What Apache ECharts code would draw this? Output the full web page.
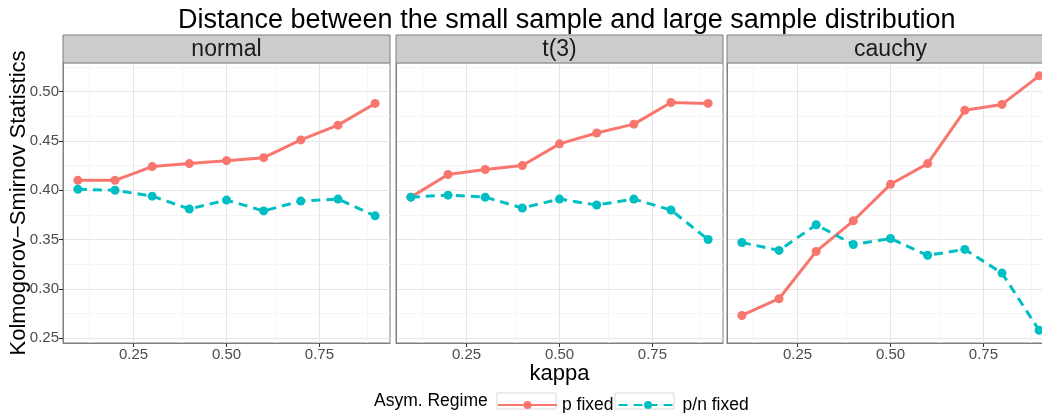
<!DOCTYPE html>
<html>
<head>
<meta charset="utf-8">
<script src="https://cdn.jsdelivr.net/npm/echarts@6/dist/echarts.min.js"></script>
<style>
  html, body { margin: 0; padding: 0; background: #fff; }
  #chart { width: 1042px; height: 413px; }
</style>
</head>
<body>
<div id="chart"></div>
<script>
// data
const kappa = [0.1, 0.2, 0.3, 0.4, 0.5, 0.6, 0.7, 0.8, 0.9]
const panels = ['normal', 't(3)', 'cauchy']
const seriesNames = ['p fixed', 'p/n fixed']

const normalP  = [0.410, 0.410, 0.424, 0.427, 0.430, 0.433, 0.451, 0.466, 0.488]
const normalPN = [0.401, 0.400, 0.394, 0.381, 0.390, 0.379, 0.389, 0.391, 0.374]
const t3P      = [0.393, 0.416, 0.421, 0.425, 0.447, 0.458, 0.467, 0.489, 0.488]
const t3PN     = [0.393, 0.395, 0.393, 0.382, 0.391, 0.385, 0.391, 0.380, 0.350]
const cauchyP  = [0.273, 0.290, 0.338, 0.369, 0.406, 0.427, 0.481, 0.487, 0.516]
const cauchyPN = [0.347, 0.339, 0.365, 0.345, 0.351, 0.334, 0.340, 0.316, 0.258]

const xTicks = [0.25, 0.5, 0.75]
const xMinorTicks = [0.125, 0.375, 0.625, 0.875]

const panelData = [[normalP, normalPN], [t3P, t3PN], [cauchyP, cauchyPN]]

const FONT = "'Liberation Sans', Arial, sans-serif"
const colors = ['#F8766D', '#00BFC4']
const gridLefts = [63, 396, 727]
const gridWidth = 327
const gridTop = 63
const gridHeight = 280
const stripTop = 35

const chart = echarts.init(document.getElementById('chart'), null, { renderer: 'canvas' })

const grids = gridLefts.map(l => ({
  left: l, top: gridTop, width: gridWidth, height: gridHeight,
  outerBoundsMode: 'none', containLabel: false,
  show: true, backgroundColor: '#fff', borderColor: '#7f7f7f', borderWidth: 1
}))

const xAxes = gridLefts.map((l, i) => ({
  type: 'value', gridIndex: i, min: 0.06, max: 0.94,
  name: i === 1 ? 'kappa' : '', nameLocation: 'middle', nameGap: 20, nameMoveOverlap: false,
  nameTextStyle: { fontSize: 22, color: '#000', fontFamily: FONT },
  axisLine: { show: true, lineStyle: { color: '#7f7f7f' } },
  axisTick: { show: true, customValues: xTicks, length: 4, lineStyle: { color: '#333' } },
  axisLabel: { customValues: xTicks, formatter: v => v.toFixed(2), fontSize: 15, color: '#4d4d4d', margin: 4, fontFamily: FONT },
  splitLine: { show: true, lineStyle: { color: '#e5e5e5' } }
}))

const yAxes = gridLefts.map((l, i) => ({
  type: 'value', gridIndex: i, min: 0.2451, max: 0.529, splitNumber: 5,
  name: i === 0 ? 'Kolmogorov\u2212Smirnov Statistics' : '', nameLocation: 'middle', nameGap: 33, nameMoveOverlap: false,
  nameTextStyle: { fontSize: 22, color: '#000', fontFamily: FONT },
  axisLine: { show: true, lineStyle: { color: '#7f7f7f' } },
  axisTick: { show: i === 0, length: 4, lineStyle: { color: '#333' } },
  axisLabel: { show: i === 0, showMinLabel: false, showMaxLabel: false, formatter: v => v.toFixed(2), fontSize: 15, color: '#4d4d4d', margin: 4, fontFamily: FONT },
  splitLine: { show: true, lineStyle: { color: '#e5e5e5' } },
  minorTick: { show: false, splitNumber: 2 },
  minorSplitLine: { show: true, lineStyle: { color: '#f5f5f5' } }
}))

const series = []
panelData.forEach((pair, p) => {
  pair.forEach((vals, s) => {
    const item = {
      name: seriesNames[s], type: 'line', xAxisIndex: p, yAxisIndex: p,
      data: kappa.map((k, j) => [k, vals[j]]),
      symbol: 'circle', symbolSize: 9,
      itemStyle: { color: colors[s] },
      lineStyle: { width: 3, color: colors[s], type: s === 1 ? [9, 6] : 'solid' },
      emphasis: { disabled: true }
    }
    if (s === 0) {
      item.markLine = {
        silent: true, symbol: 'none', z: 1, label: { show: false },
        lineStyle: { color: '#f5f5f5', type: 'solid', width: 1 },
        data: xMinorTicks.map(v => ({ xAxis: v }))
      }
    }
    series.push(item)
  })
})

// facet strips and legend key boxes
const graphic = []
panels.forEach((name, i) => {
  graphic.push({
    type: 'rect', z: 10,
    shape: { x: gridLefts[i], y: stripTop, width: gridWidth, height: gridTop - stripTop },
    style: { fill: '#cccccc', stroke: '#7f7f7f', lineWidth: 1 }
  })
  graphic.push({
    type: 'text', z: 11,
    x: gridLefts[i] + gridWidth / 2, y: (stripTop + gridTop) / 2 + 1,
    style: { text: name, fontSize: 23, fill: '#1a1a1a', fontFamily: FONT, align: 'center', verticalAlign: 'middle' }
  })
})
graphic.push({
  type: 'text', x: 374, y: 401,
  style: { text: 'Asym. Regime', fontSize: 17.5, fill: '#000', fontFamily: FONT, align: 'left', verticalAlign: 'middle' }
})
;[497, 615].forEach(x => graphic.push({
  type: 'rect', shape: { x: x, y: 393, width: 59, height: 16 },
  style: { fill: 'none', stroke: '#d9d9d9', lineWidth: 1 }
}))

const option = {
  animation: false,
  backgroundColor: '#fff',
  title: {
    text: 'Distance between the small sample and large sample distribution',
    left: 178, top: 7, padding: 0,
    textStyle: { fontSize: 27, fontWeight: 'normal', color: '#000', fontFamily: FONT }
  },
  legend: {
    data: seriesNames, left: 497, top: 396, padding: 0,
    itemWidth: 59, itemHeight: 10, itemGap: 4,
    textStyle: { fontSize: 17.5, color: '#000', fontFamily: FONT }
  },
  grid: grids,
  xAxis: xAxes,
  yAxis: yAxes,
  series: series,
  graphic: graphic
}

chart.setOption(option)
window.addEventListener('resize', () => chart.resize())
</script>
</body>
</html>
